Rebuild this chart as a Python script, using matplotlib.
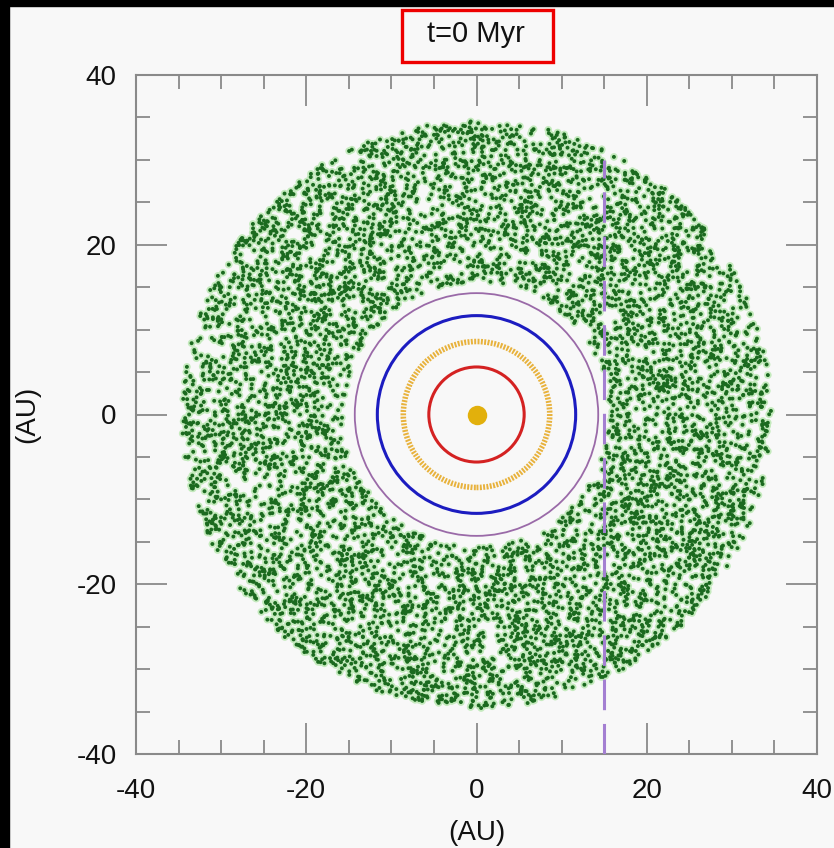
import numpy as np
import matplotlib.pyplot as plt
from matplotlib.patches import Circle, Rectangle

# planet orbits (AU) and colours
orbit_radii  = [5.6, 8.6, 11.65, 14.3]
orbit_colors = ['#d42222', '#e8b23c', '#1c1cc0', '#9a6aa8']
orbit_widths = [2.2, 4.0, 2.2, 1.3]
orbit_styles = ['-', (0, (0.35, 0.25)), '-', '-']

# planetesimal disk (AU)
disk_inner  = 15.6
disk_outer  = 34.6
n_particles = 7500

# dashed marker line
line_x      = 15.0
line_y      = [-40, 30]

title_text = 't=0 Myr'
ticks      = [-40, -20, 0, 20, 40]

bg = '#f8f8f8'
plt.rcParams['font.family'] = ['Liberation Sans', 'DejaVu Sans']

fig = plt.figure(figsize=(8.34, 8.48), dpi=100, facecolor=bg)
ax = fig.add_axes([136 / 834, 94 / 848, 681 / 834, 679 / 848], facecolor=bg)

# disk particles, uniform in area over the annulus
rng = np.random.default_rng(7)
r = np.sqrt(rng.uniform(disk_inner**2, disk_outer**2, n_particles))
phi = rng.uniform(0, 2 * np.pi, n_particles)
px, py = r * np.cos(phi), r * np.sin(phi)
ax.scatter(px, py, s=30, color='#c4eabd', edgecolors='none', zorder=1)
ax.scatter(px, py, s=8, color='#1b6a1f', edgecolors='none', zorder=2)

for rad, col, lw, ls in zip(orbit_radii, orbit_colors, orbit_widths, orbit_styles):
    ax.add_patch(Circle((0, 0), rad, fill=False, edgecolor=col, lw=lw, ls=ls, zorder=3))

ax.plot([0], [0], 'o', color='#e2b00c', markersize=14, mec='none', zorder=4)

ax.plot([line_x, line_x], line_y, color='#a47fd2', lw=2.2, dashes=(10, 4.5), zorder=5)

ax.set_xlim(-40, 40)
ax.set_ylim(-40, 40)
ax.set_xticks(ticks)
ax.set_yticks(ticks)
ax.set_xticks(np.arange(-40, 41, 5), minor=True)
ax.set_yticks(np.arange(-40, 41, 5), minor=True)
ax.set_xticklabels([str(t) if t >= 0 else '-' + str(-t) for t in ticks])
ax.set_yticklabels([str(t) if t >= 0 else '-' + str(-t) for t in ticks])
ax.tick_params(which='both', direction='in', top=True, right=True, color='#8a8a8a', width=1.3,
               labelsize=20, labelcolor='#111111')
ax.tick_params(axis='x', pad=17)
ax.tick_params(axis='y', pad=14)
ax.tick_params(which='major', length=22)
ax.tick_params(which='minor', length=10)
for s in ax.spines.values():
    s.set_color('#8a8a8a')
    s.set_linewidth(1.5)

ax.set_xlabel('(AU)', fontsize=20, labelpad=12, color='#111111')
ax.set_ylabel('(AU)', fontsize=20, labelpad=26, color='#111111')

fig.text(476 / 834, 1 - 34 / 848, title_text, fontsize=21, ha='center', va='center', color='#111111')
fig.patches.append(Rectangle((402 / 834, 1 - 62 / 848), 151 / 834, 52 / 848, transform=fig.transFigure,
                             fill=False, edgecolor='#ee0000', lw=2.4))

# black frame strips from the video capture
fig.patches.append(Rectangle((0, 0), 9 / 834, 1, transform=fig.transFigure, color='black', zorder=10))
fig.patches.append(Rectangle((0, 1 - 6 / 848), 1, 6 / 848, transform=fig.transFigure, color='black', zorder=10))

fig.savefig('out.png', dpi=100, facecolor=bg)
